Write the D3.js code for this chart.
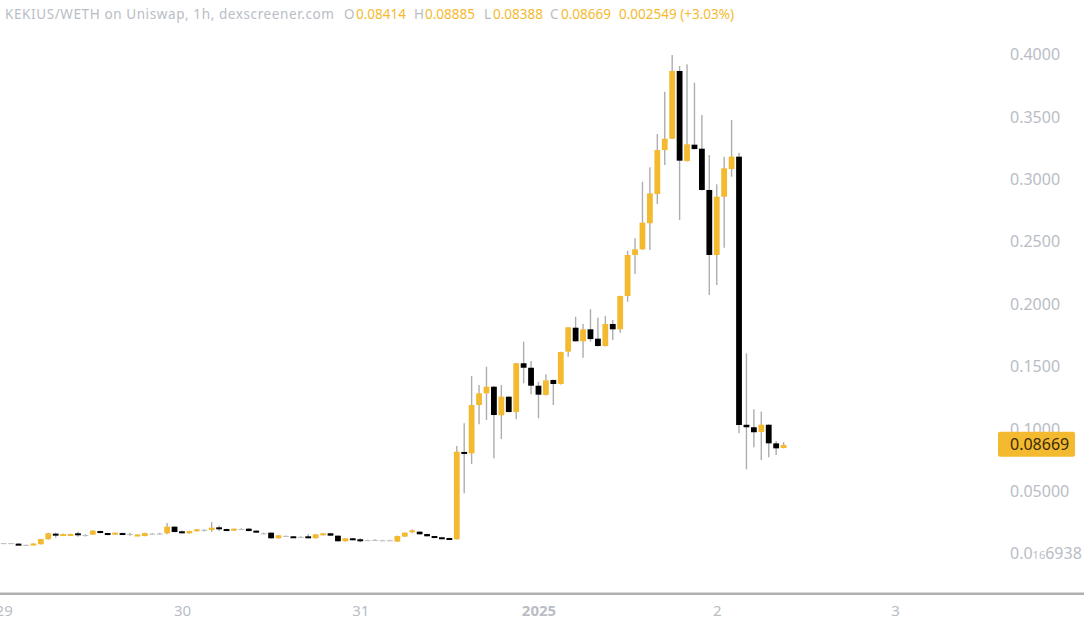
<!DOCTYPE html>
<html>
<head>
<meta charset="utf-8">
<script src="https://cdn.jsdelivr.net/npm/d3@7"></script>
<style>
    html, body { margin: 0; padding: 0; background: #fff; overflow: hidden; }
    text { font-family: "Noto Sans", sans-serif; }
    .y-axis .domain { display: none; }
</style>
</head>
<body>
<div class="visholder"></div>
<script>
// hourly candles, first one is 29 Dec 2024 00:00
const firstCandle = Date.UTC(2024, 11, 29);

const opens = [
    .0078, .0079, .0075, .0063, .0064, .0070, .0110, .0155, .0142, .0144,
    .0158, .0143, .0147, .0176, .0160, .0147, .0160, .0151, .0140, .0136,
    .0154, .0155, .0158, .0211, .0174, .0158, .0174, .0184, .0184, .0206,
    .0192, .0179, .0188, .0195, .0179, .0158, .0163, .0118, .0137, .0134,
    .0129, .0134, .0118, .0142, .0158, .0139, .0094, .0118, .0110, .0101,
    .0103, .0102, .0101, .0091, .0131, .0166, .0171, .0152, .0136, .0126,
    .0120, .0110, .0810, .0799, .1186, .1280, .1333, .1104, .1253, .1130,
    .1521, .1485, .1341, .1267, .1387, .1355, .1614, .1806, .1697, .1793,
    .1718, .1659, .1836, .1793, .2060, .2389, .2434, .2643, .2878, .3230,
    .3321, .3864, .3142, .3273, .3241, .2910, .2389, .2856, .3078, .3177,
    .1028, .1008, .0970, .1028, .0879, .08414
];
const highs = [
    .0080, .0081, .0078, .0068, .0078, .0114, .0162, .0163, .0156, .0156,
    .0171, .0150, .0182, .0180, .0162, .0165, .0163, .0163, .0150, .0163,
    .0160, .0162, .0240, .0214, .0180, .0178, .0192, .0190, .0248, .0219,
    .0195, .0197, .0198, .0198, .0182, .0163, .0165, .0144, .0140, .0136,
    .0134, .0152, .0153, .0160, .0160, .0141, .0120, .0120, .0118, .0106,
    .0110, .0106, .0106, .0139, .0165, .0190, .0173, .0154, .0138, .0130,
    .0122, .0858, .1040, .1419, .1347, .1493, .1338, .1347, .1256, .1524,
    .1694, .1539, .1373, .1432, .1390, .1614, .1812, .1894, .1836, .1954,
    .1886, .1900, .1868, .2063, .2423, .2523, .2976, .3092, .3359, .3698,
    .3992, .3904, .3917, .3770, .3511, .3190, .2956, .3177, .3471, .3209,
    .1601, .1152, .1133, .1032, .0898, .08885
];
const lows = [
    .0076, .0076, .0062, .0061, .0062, .0068, .0108, .0123, .0140, .0142,
    .0131, .0132, .0145, .0158, .0142, .0145, .0145, .0139, .0138, .0134,
    .0148, .0148, .0150, .0166, .0158, .0154, .0172, .0172, .0168, .0176,
    .0176, .0176, .0186, .0174, .0160, .0150, .0115, .0115, .0132, .0124,
    .0120, .0118, .0116, .0140, .0137, .0092, .0092, .0102, .0086, .0098,
    .0100, .0098, .0098, .0089, .0129, .0158, .0148, .0132, .0118, .0112,
    .0105, .0108, .0479, .0713, .1032, .1066, .0759, .0914, .1126, .1072,
    .1360, .1272, .1080, .1262, .1186, .1350, .1574, .1694, .1566, .1694,
    .1656, .1656, .1707, .1766, .2014, .2236, .2430, .2429, .2798, .3110,
    .3318, .2669, .3138, .3235, .2906, .2068, .2148, .2447, .3016, .0960,
    .0671, .0847, .0745, .0767, .0786, .08388
];
const closes = [
    .0079, .0078, .0064, .0065, .0076, .0112, .0158, .0139, .0152, .0152,
    .0144, .0144, .0179, .0160, .0144, .0163, .0147, .0152, .0148, .0160,
    .0155, .0156, .0211, .0168, .0160, .0176, .0190, .0186, .0203, .0190,
    .0179, .0195, .0192, .0176, .0163, .0157, .0118, .0142, .0135, .0126,
    .0128, .0120, .0150, .0158, .0139, .0094, .0118, .0104, .0099, .0103,
    .0105, .0101, .0102, .0136, .0163, .0182, .0150, .0134, .0120, .0115,
    .0107, .0812, .0805, .1186, .1280, .1333, .1106, .1253, .1130, .1521,
    .1485, .1341, .1269, .1384, .1355, .1611, .1809, .1697, .1793, .1715,
    .1659, .1836, .1793, .2060, .2389, .2434, .2648, .2883, .3230, .3321,
    .3864, .3145, .3276, .3238, .2910, .2389, .2856, .3084, .3177, .1026,
    .1008, .0968, .1028, .0879, .0839, .08669
];

// price axis
const priceTicks = [0.4, 0.35, 0.3, 0.25, 0.2, 0.15, 0.1, 0.05, 0];
const priceLabels = ["0.4000", "0.3500", "0.3000", "0.2500", "0.2000", "0.1500", "0.1000", "0.05000", "0.0|16|6938"];

// time axis
const dayTicks = [Date.UTC(2024, 11, 29), Date.UTC(2024, 11, 30), Date.UTC(2024, 11, 31), Date.UTC(2025, 0, 1), Date.UTC(2025, 0, 2), Date.UTC(2025, 0, 3)];
const dayLabels = ["29", "30", "31", "2025", "2", "3"];

// legend
const pairName = "KEKIUS/WETH on Uniswap, 1h, dexscreener.com";
const lastLabel = "0.08669";
const lastPrice = 0.08669;

const width = 1084, height = 626;
const upColor = "#f3ba2f", downColor = "#000", wickColor = "#adadad", axisText = "#b9bdc5";

let svg = d3.select(".visholder").append("svg")
    .attr("width", width)
    .attr("height", height)
    .style("display", "block");

let x = d3.scaleUtc().domain([dayTicks[0], dayTicks[5]]).range([3.7, 895]);
let y = d3.scaleLinear().domain([0, 0.4]).range([553, 54]);

const hour = 3600 * 1000;
const candles = opens.map((o, i) => ({
    t: firstCandle + i * hour, o: o, h: highs[i], l: lows[i], c: closes[i]
}));

// wicks
svg.append("g").selectAll("line").data(candles).enter().append("line")
    .attr("x1", d => x(d.t))
    .attr("x2", d => x(d.t))
    .attr("y1", d => y(d.h))
    .attr("y2", d => y(d.l))
    .attr("stroke", wickColor)
    .attr("stroke-width", 1.4);

// bodies, almost flat ones stay thin and grey
const bodyHeight = d => Math.abs(y(d.o) - y(d.c));
svg.append("g").selectAll("rect").data(candles).enter().append("rect")
    .attr("x", d => x(d.t) - 2.9)
    .attr("width", 5.8)
    .attr("y", d => y(Math.max(d.o, d.c)))
    .attr("height", d => bodyHeight(d) < 0.5 ? 1 : Math.max(bodyHeight(d), 2))
    .attr("fill", d => bodyHeight(d) < 0.5 ? "#bbb" : (d.c >= d.o ? upColor : downColor));

// y axis
let yAxis = d3.axisRight(y).tickValues(priceTicks).tickSize(0).tickPadding(0).tickFormat("");
let yGroup = svg.append("g").attr("class", "y-axis").attr("transform", "translate(1010, 0)").call(yAxis);
yGroup.selectAll(".tick text").each(function (d, i) {
    const parts = priceLabels[i].split("|");
    let label = d3.select(this).attr("fill", axisText).style("font-size", "16px").attr("x", 0).attr("dy", "0.36em");
    label.append("tspan").text(parts[0]);
    if (parts.length > 1) {
        label.append("tspan").text(parts[1]).style("font-size", "11px");
        label.append("tspan").text(parts[2]);
    }
});

// x axis
let xAxis = d3.axisBottom(x).tickValues(dayTicks).tickSize(0).tickPadding(11).tickFormat((d, i) => dayLabels[i]);
let xGroup = svg.append("g").attr("transform", "translate(0, 594)").call(xAxis);
xGroup.selectAll(".tick text")
    .attr("fill", axisText)
    .style("font-size", "15px")
    .style("font-weight", (d, i) => dayLabels[i] === "2025" ? "700" : "400");
xGroup.select(".domain").remove();
// full width rule under the plot
svg.append("rect")
    .attr("x", 0).attr("y", 592.5)
    .attr("width", width).attr("height", 2.5)
    .attr("fill", "#b0b0b0");

// last price tag
svg.append("rect")
    .attr("x", 998).attr("y", y(lastPrice) - 13)
    .attr("width", 77).attr("height", 25)
    .attr("rx", 2)
    .attr("fill", upColor);
svg.append("text").text(lastLabel)
    .attr("x", 1010).attr("y", y(lastPrice) - 0.5)
    .attr("dy", "0.36em")
    .attr("fill", "#3b2a05")
    .style("font-size", "16px");

// legend line
const legendParts = [
    [pairName, 5, axisText, 0.6], ["O", 344, axisText, 0], ["0.08414", 356, upColor, 0],
    ["H", 414, axisText, 0], ["0.08885", 425, upColor, 0], ["L", 484, axisText, 0],
    ["0.08388", 493, upColor, 0], ["C", 550, axisText, 0], ["0.08669", 561, upColor, 0],
    ["0.002549 (+3.03%)", 619, upColor, 0]
];
svg.append("g").selectAll("text").data(legendParts).enter().append("text")
    .text(d => d[0])
    .attr("x", d => d[1])
    .attr("y", 19)
    .attr("fill", d => d[2])
    .style("letter-spacing", d => d[3] + "px")
    .style("font-size", "13.5px");
</script>
</body>
</html>
